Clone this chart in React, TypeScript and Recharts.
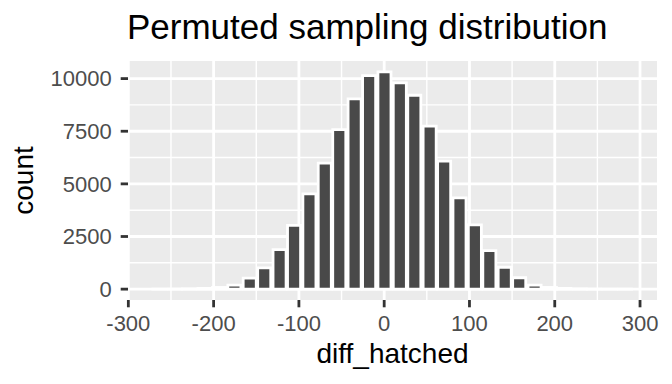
import { Bar, BarChart, CartesianGrid, XAxis, YAxis } from "recharts";

// bin centres of the histogram (binwidth ~17.6)
const binCenters = [
    -264, -246, -229, -211, -194, -176, -158, -141, -123, -106, -88, -70, -53, -35, -18,
    0, 18, 35, 53, 70, 88, 106, 123, 141, 158, 176, 194, 211, 229, 246, 264, 282,
]

const counts = [
    1, 3, 12, 35, 80, 190, 520, 1010, 1880, 3030, 4520, 5990, 7580, 9040, 10140,
    10320, 9800, 9210, 7740, 6080, 4330, 3050, 1830, 1040, 540, 190, 80, 35, 12, 4, 2, 1,
]

const xTicks = [-300, -200, -100, 0, 100, 200, 300]
const xMinor = [-250, -150, -50, 50, 150, 250]
const yTicks = [0, 2500, 5000, 7500, 10000]
const yMinor = [1250, 3750, 6250, 8750]

const data = binCenters.map((x, i) => ({ x, count: counts[i] }))

const font = '"Liberation Sans", Arial, sans-serif'
const tickStyle = { fontSize: 22, fill: "#4D4D4D", fontFamily: font }
const tickLine = { stroke: "#333333", strokeWidth: 2.8 }

export default function App() {
    return (
        <div style={{ position: "absolute", left: 0, top: 0, width: 672, height: 384, background: "#fff" }}>
            <svg width={672} height={50} style={{ position: "absolute", left: 0, top: 0 }}>
                <text x={127} y={39} fontSize={35} fontFamily={font} fill="#000">Permuted sampling distribution</text>
            </svg>
            <BarChart width={672} height={384} data={data} margin={{ top: 61, right: 15, bottom: 0, left: 0 }}>
                <CartesianGrid fill="#EBEBEB" stroke="#fff" strokeWidth={1.4}
                    horizontalValues={yMinor} verticalValues={xMinor} />
                <CartesianGrid stroke="#fff" strokeWidth={2.8}
                    horizontalValues={yTicks} verticalValues={xTicks} />
                <XAxis dataKey="x" type="number" domain={[-300.4, 319.9]} ticks={xTicks} allowDataOverflow
                    axisLine={false} tickLine={tickLine} tickSize={7.3} tickMargin={7.8} tick={tickStyle} height={84}
                    label={{ value: "diff_hatched", position: "insideBottom", offset: 20.7, style: { fontSize: 28, fill: "#000", fontFamily: font } }} />
                <YAxis type="number" domain={[-516, 10836]} ticks={yTicks} allowDataOverflow
                    axisLine={false} tickLine={tickLine} tickSize={7.3} tickMargin={9} tick={tickStyle} width={128}
                    label={{ value: "count", angle: -90, position: "insideLeft", offset: 23, style: { textAnchor: "middle", fontSize: 28, fill: "#000", fontFamily: font } }} />
                <Bar dataKey="count" fill="#494949" stroke="#fff" strokeWidth={2.8} barSize={15} isAnimationActive={false} />
            </BarChart>
        </div>
    )
}
